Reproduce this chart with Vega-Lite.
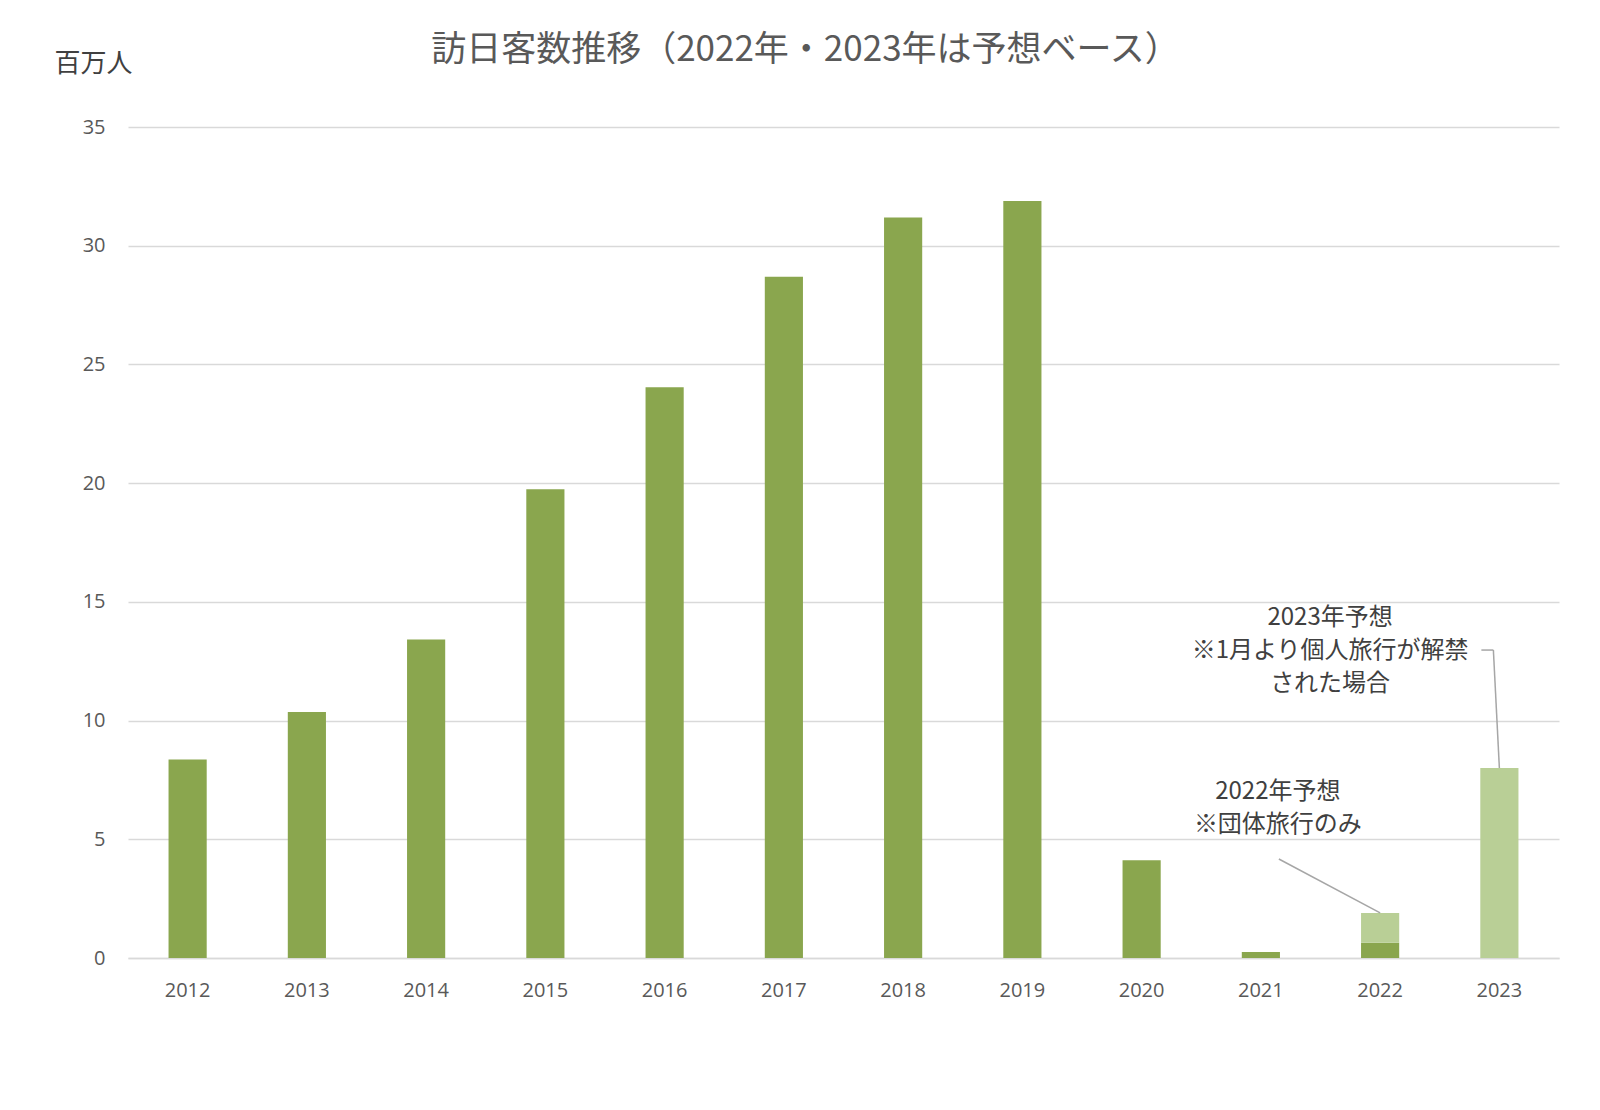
{
  "$schema": "https://vega.github.io/schema/vega-lite/v6.json",
  "autosize": {"type": "none"},
  "width": 1431,
  "height": 831,
  "padding": {"left": 128, "top": 127, "right": 41, "bottom": 152},
  "background": "white",
  "title": {
    "text": "訪日客数推移（2022年・2023年は予想ベース）",
    "font": "Noto Sans CJK JP",
    "fontSize": 35,
    "fontWeight": "normal",
    "color": "#595959",
    "anchor": "middle",
    "dx": -38,
    "offset": -18
  },
  "config": {
    "view": {"stroke": null},
    "font": "Noto Sans CJK JP"
  },
  "data": {
    "values": [
      {"year": "2012", "type": "実績", "value": 8.36, "ord": 1},
      {"year": "2013", "type": "実績", "value": 10.36, "ord": 1},
      {"year": "2014", "type": "実績", "value": 13.41, "ord": 1},
      {"year": "2015", "type": "実績", "value": 19.74, "ord": 1},
      {"year": "2016", "type": "実績", "value": 24.04, "ord": 1},
      {"year": "2017", "type": "実績", "value": 28.69, "ord": 1},
      {"year": "2018", "type": "実績", "value": 31.19, "ord": 1},
      {"year": "2019", "type": "実績", "value": 31.88, "ord": 1},
      {"year": "2020", "type": "実績", "value": 4.12, "ord": 1},
      {"year": "2021", "type": "実績", "value": 0.25, "ord": 1},
      {"year": "2022", "type": "実績", "value": 0.64, "ord": 1},
      {"year": "2022", "type": "予想", "value": 1.26, "ord": 2},
      {"year": "2023", "type": "予想", "value": 8.0, "ord": 2}
    ]
  },
  "layer": [
    {
      "mark": {"type": "bar"},
      "encoding": {
        "x": {
          "field": "year",
          "type": "nominal",
          "sort": null,
          "scale": {"paddingInner": 0.68, "paddingOuter": 0.34},
          "axis": {
            "title": null,
            "labelAngle": 0,
            "labelFont": "Open Sans",
            "labelFontSize": 20,
            "labelColor": "#595959",
            "labelPadding": 32,
            "labelBaseline": "middle",
            "ticks": false,
            "domainColor": "#D9D9D9",
            "domainWidth": 1.5,
            "grid": false
          }
        },
        "y": {
          "field": "value",
          "type": "quantitative",
          "stack": "zero",
          "scale": {"domain": [0, 35], "nice": false},
          "axis": {
            "values": [0, 5, 10, 15, 20, 25, 30, 35],
            "title": "百万人",
            "titleAngle": 0,
            "titleFont": "Noto Sans CJK JP",
            "titleFontSize": 26,
            "titleFontWeight": "normal",
            "titleColor": "#404040",
            "titleAlign": "center",
            "titleBaseline": "middle",
            "titleX": -35,
            "titleY": -64,
            "labelFont": "Open Sans",
            "labelFontSize": 20,
            "labelColor": "#595959",
            "labelPadding": 23,
            "ticks": false,
            "domain": false,
            "gridColor": "#D9D9D9",
            "gridWidth": 1.5
          }
        },
        "color": {
          "field": "type",
          "type": "nominal",
          "scale": {"domain": ["実績", "予想"], "range": ["#8AA64E", "#B9CF96"]},
          "legend": null
        },
        "order": {"field": "ord", "type": "quantitative"}
      }
    },
    {
      "data": {"values": [{}]},
      "mark": {"type": "rule", "color": "#A6A6A6", "strokeWidth": 1.5, "xOffset": 18},
      "encoding": {
        "x": {"datum": "2021"},
        "x2": {"datum": "2022"},
        "y": {"datum": 4.17},
        "y2": {"datum": 1.9}
      }
    },
    {
      "data": {"values": [{}]},
      "mark": {"type": "rule", "color": "#A6A6A6", "strokeWidth": 1.5, "xOffset": -18, "x2Offset": -6},
      "encoding": {
        "x": {"datum": "2023"},
        "x2": {"datum": "2023"},
        "y": {"datum": 12.97},
        "y2": {"datum": 12.97}
      }
    },
    {
      "data": {"values": [{}]},
      "mark": {"type": "rule", "color": "#A6A6A6", "strokeWidth": 1.5, "xOffset": -6, "x2Offset": 0},
      "encoding": {
        "x": {"datum": "2023"},
        "x2": {"datum": "2023"},
        "y": {"datum": 12.97},
        "y2": {"datum": 8.0}
      }
    },
    {
      "data": {"values": [{}]},
      "mark": {
        "type": "text",
        "text": ["2023年予想", "※1月より個人旅行が解禁", "された場合"],
        "font": "Noto Sans CJK JP",
        "fontSize": 24,
        "fontWeight": "normal",
        "color": "#404040",
        "align": "center",
        "baseline": "middle",
        "lineHeight": 33,
        "dx": -50
      },
      "encoding": {
        "x": {"datum": "2022"},
        "y": {"datum": 14.3}
      }
    },
    {
      "data": {"values": [{}]},
      "mark": {
        "type": "text",
        "text": ["2022年予想", "※団体旅行のみ"],
        "font": "Noto Sans CJK JP",
        "fontSize": 24,
        "fontWeight": "normal",
        "color": "#404040",
        "align": "center",
        "baseline": "middle",
        "lineHeight": 33,
        "dx": 17
      },
      "encoding": {
        "x": {"datum": "2021"},
        "y": {"datum": 7.0}
      }
    }
  ]
}
